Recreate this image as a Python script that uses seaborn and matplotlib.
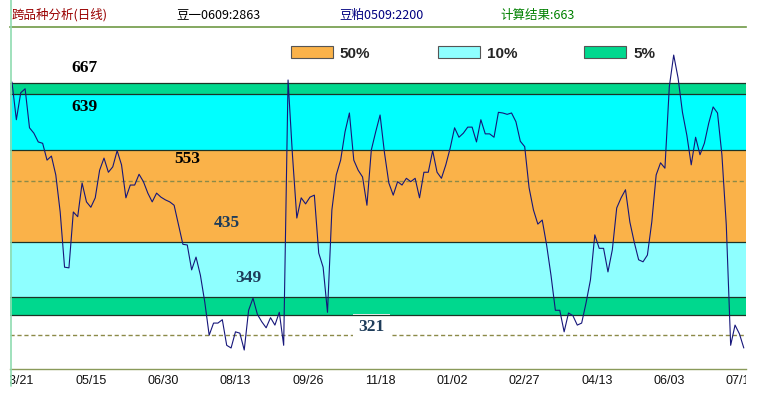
import numpy as np
import seaborn as sns
import matplotlib
matplotlib.use('Agg')
import matplotlib.pyplot as plt
from matplotlib.patches import Patch
from matplotlib.lines import Line2D
from matplotlib.transforms import Bbox, TransformedBbox

# spread, one reading every 2 trading days
spread = [667, 611, 651, 657, 599, 591, 578, 576, 551, 557,
          529, 474, 392, 391, 474, 467, 517, 489, 481, 495,
          536, 554, 533, 541, 565, 544, 495, 514, 514, 530,
          519, 502, 489, 502, 496, 492, 489, 484, 455, 426,
          425, 388, 407, 380, 340, 291, 309, 309, 314, 276,
          272, 296, 294, 269, 328, 346, 322, 311, 302, 317,
          306, 325, 276, 670, 559, 465, 495, 486, 496, 499,
          413, 392, 325, 477, 529, 551, 593, 621, 551, 536,
          526, 484, 566, 593, 618, 562, 517, 499, 519, 514,
          524, 519, 524, 495, 533, 533, 565, 533, 524, 544,
          569, 599, 585, 591, 600, 600, 578, 611, 590, 590,
          585, 622, 621, 619, 621, 608, 579, 571, 510, 477,
          456, 462, 425, 380, 328, 328, 296, 324, 320, 306,
          309, 339, 373, 440, 420, 420, 385, 418, 480, 495,
          507, 459, 429, 403, 400, 410, 459, 529, 547, 539,
          660, 707, 673, 622, 588, 544, 585, 559, 576, 606,
          630, 621, 559, 455, 276, 306, 293, 272]
days = np.arange(0, 2 * len(spread), 2)

tick_days = [3, 36, 69, 102, 135, 168, 201, 234, 267, 300, 333]
tick_labels = ['03/21', '05/15', '06/30', '08/13', '09/26', '11/18',
               '01/02', '02/27', '04/13', '06/03', '07/15']

# band edges (top to bottom) and the levels printed on them
band_edges = [666, 649, 566, 430, 347, 321]
level_text = ['667', '639', '553', '435', '349', '321']
dash_levels = [520, 291]

legend_labels = ['50%', '10%', '5%']

c_orange = '#FAB249'
c_cyan = '#00FFFF'
c_lcyan = '#8EFFFF'
c_green = '#00D88E'

sns.set_style('white')
plt.rcParams['font.family'] = ['Noto Sans CJK SC', 'DejaVu Sans']

W, H = 765, 393
fig = plt.figure(figsize=(W / 100, H / 100), dpi=100)
ax = fig.add_axes([10 / W, 24 / H, 736 / W, 342 / H])

band_fill = [c_green, c_cyan, c_orange, c_lcyan, c_green]
for hi, lo, c in zip(band_edges[:-1], band_edges[1:], band_fill):
    ax.axhspan(lo, hi, color=c, lw=0, zorder=0)
for e in band_edges:
    ax.axhline(e, color='#1c3326', lw=0.9, zorder=2)
for m in dash_levels:
    ax.axhline(m, color='#8c8a48', lw=1.0, ls=(0, (3, 2)), zorder=1)

sns.lineplot(x=days, y=spread, ax=ax, color='#16167a', lw=0.8, zorder=3)

# level labels
label_pos = [(33, 688), (33, 630), (80, 553), (98, 458), (108, 376), (164, 303)]
label_col = ['black', 'black', 'black', '#1e3c5a', '#1e3c5a', '#1e3c5a']
for (lx, ly), t, c in zip(label_pos, level_text, label_col):
    kw = {}
    if t == '321':
        kw['bbox'] = dict(boxstyle='square,pad=0.3', fc='white', ec='none')
    ax.text(lx, ly, t, ha='center', va='center', fontsize=12.5, color=c,
            family='Liberation Serif', weight='bold', zorder=1.5, **kw)

ax.set_xlim(-0.9, 335)
ax.set_ylim(240.8, 748.7)
ax.set_xlabel('')
ax.set_ylabel('')
ax.set_yticks([])
ax.set_xticks(tick_days)
ax.set_xticklabels(tick_labels, fontsize=9, family='Liberation Sans', color='#111111')
ax.tick_params(axis='x', length=0, pad=4)

clip = TransformedBbox(Bbox([[10 / W, 0], [746 / W, 1]]), fig.transFigure)
for t in ax.get_xticklabels():
    t.set_clip_box(clip)
    t.set_clip_on(True)

ax.spines['left'].set_visible(False)
ax.spines['right'].set_visible(False)
ax.spines['top'].set_color('#6f9a45')
ax.spines['top'].set_linewidth(1.2)
ax.spines['bottom'].set_color('#8a9a5a')
ax.spines['bottom'].set_linewidth(1.0)

# light vertical rule at the left edge
fig.add_artist(Line2D([10.5 / W, 10.5 / W], [1 - 386 / H, 1], color='#8fdcb0', lw=1.2))

handles = [Patch(facecolor=c, edgecolor='#555555', lw=0.8) for c in (c_orange, c_lcyan, c_green)]
ax.legend(handles, legend_labels, ncol=3, loc='center left',
          bbox_to_anchor=(291 / W, 1 - 53.5 / H), bbox_transform=fig.transFigure,
          frameon=False, handlelength=2.75, handleheight=0.85, handletextpad=0.45,
          columnspacing=4.4, borderpad=0, borderaxespad=0,
          prop=dict(family='Liberation Sans', weight='bold', size=11))

# header
cjk = ['Noto Sans CJK SC', 'DejaVu Sans']
fig.text(12 / W, 1 - 15 / H, '跨品种分析(日线)', color='#990000', fontsize=9, va='center', family=cjk)
fig.text(176 / W, 1 - 15 / H, '豆一0609:2863', color='black', fontsize=9, va='center', family=cjk)
fig.text(339 / W, 1 - 15 / H, '豆粕0509:2200', color='#000080', fontsize=9, va='center', family=cjk)
fig.text(500 / W, 1 - 15 / H, '计算结果:663', color='#008000', fontsize=9, va='center', family=cjk)

fig.savefig('out.png', dpi=100)
